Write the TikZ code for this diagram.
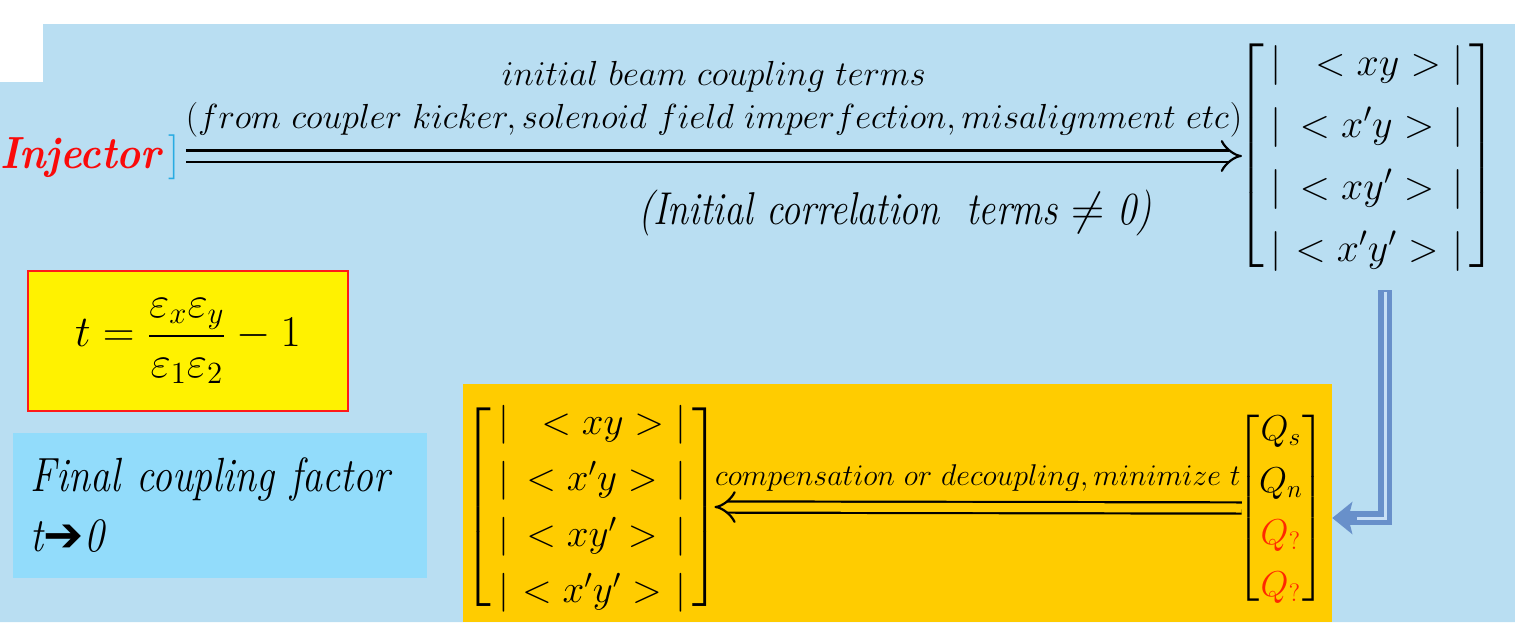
\documentclass[tikz,border=0pt]{standalone}
\usepackage{fix-cm}
\usepackage{amsmath}
\usepackage{fontspec}
\newfontfamily\timesit{Latin Modern Roman}[FakeStretch=0.83]
\newfontfamily\symfont{DejaVu Sans}
\usetikzlibrary{arrows.meta, positioning, calc}

\definecolor{bgblue}{RGB}{185,222,242}
\definecolor{panel}{RGB}{255,204,0}
\definecolor{finalblue}{RGB}{146,220,251}
\definecolor{injred}{RGB}{250,10,10}
\definecolor{brkcyan}{RGB}{41,171,226}
\definecolor{qred}{RGB}{255,40,0}
\definecolor{arrowblue}{RGB}{104,144,202}
\definecolor{arrowlit}{RGB}{200,224,246}

% column of the four correlation terms, #1 = row stretch, #2 = bracket factor
\newcommand{\corrvec}[2]{%
  \renewcommand{\arraystretch}{#1}%
  $\delimiterfactor=#2\delimitershortfall=30pt
  \left[\begin{array}{@{\,}l@{\;}c@{\;}r@{\,}}
    | & \;\;<xy> & | \\
    | & <x'y> & | \\
    | & <xy'> & | \\
    | & \!<x'y'>\! & |
  \end{array}\right]$}

\begin{document}
\begin{tikzpicture}[x=0.5pt, y=-0.5pt,
    lbl/.style={inner sep=3pt},
    mat/.style={inner ysep=3pt, inner xsep=-3pt},
    dbl/.style={double=#1, double distance=4.5pt, line width=1.1pt, -{Implies}},
    formbox/.style={draw=red!90, line width=1pt, fill=yellow, minimum width=160pt,
      minimum height=70pt, font=\fontsize{22}{26}\selectfont},
    finalbox/.style={fill=finalblue, text width=189pt, inner xsep=9pt,
      minimum height=72.5pt, align=left, font=\timesit\itshape\fontsize{24}{30}\selectfont},
    bent/.style={line width=7pt, arrowblue, line join=miter,
      -{Stealth[width=16pt, length=10pt, inset=2pt]}, shorten >=6pt},
    bentlit/.style={line width=1.5pt, arrowlit, line join=miter}]
\useasboundingbox (0,0) rectangle (1515,622);

% background panels
\fill[bgblue] (0,82) -- (43,82) -- (43,24) -- (1515,24) -- (1515,622) -- (0,622) -- cycle;
\fill[panel] (463,384) rectangle (1332,622);

% injector and the initial coupling terms
\node[lbl, anchor=base west, font=\fontsize{22.5}{26}\selectfont] (inj) at (-6,168)
  {\textcolor{injred}{\scalebox{0.9}[1]{\bfseries\itshape Injector}}\,\textcolor{brkcyan}{]}};
\node[mat, font=\fontsize{20}{24}\selectfont] (topmat) at (1367,156) {\corrvec{1.29}{900}};
\draw[dbl=bgblue] (inj.east |- topmat.west) -- node[midway, above=5.5pt, align=center,
    font=\fontsize{17.4}{21.5}\selectfont, text=black] (srclbl)
  {$initial\ beam\ coupling\ terms$\\
   $(from\ coupler\ kicker,solenoid\ field\ imperfection,misalignment\ etc)$}
  (topmat.west);
\node[font=\timesit\itshape\fontsize{23}{28}\selectfont] (corr) at (895,213)
  {(Initial correlation\ \ terms $\neq$ 0)};

% coupling factor
\node[formbox] (tdef) at (188,341)
  {$t=\dfrac{\varepsilon_x\varepsilon_y}{\varepsilon_1\varepsilon_2}-1$};
\node[finalbox] (final) at (220,505) {Final coupling factor\\ t{\symfont ➔}0};

% compensation
\node[mat, font=\fontsize{19.5}{24}\selectfont] (botmat) at (592,507) {\corrvec{1.17}{850}};
\node[mat, font=\fontsize{18}{22}\selectfont] (qvec) at (1281,508)
  {\renewcommand{\arraystretch}{1.18}%
   $\delimiterfactor=880\delimitershortfall=30pt
   \left[\begin{array}{@{}c@{}} Q_s\\ Q_n\\ \color{qred}Q_?\\ \color{qred}Q_? \end{array}\right]$};
\draw[dbl=panel] (qvec.west) -- node[midway, above=4pt, font=\fontsize{15}{18}\selectfont] (complbl)
  {$compensation\ or\ decoupling,minimize\ t$} (botmat.east);

% bent arrow down to the knobs
\coordinate (bend) at (1385,518);
\draw[bent] ([yshift=-2pt]topmat.south -| bend) -- (bend) -- (qvec.east |- bend);
\draw[bentlit] ([yshift=-3pt]topmat.south -| bend) -- (bend) -- ++(-28,0);
\end{tikzpicture}
\end{document}
